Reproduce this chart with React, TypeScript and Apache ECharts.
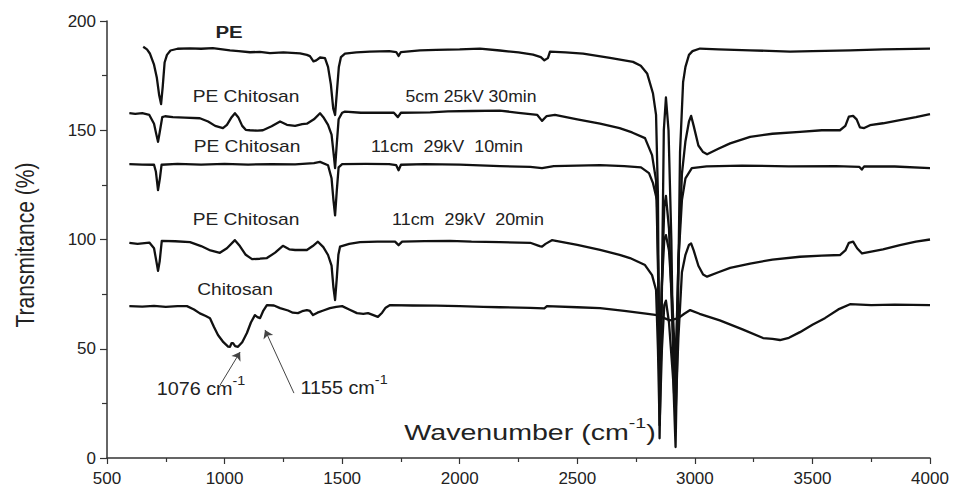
import React, { useEffect, useRef } from "react";
import * as echarts from "echarts";

// ---- Data (wavenumber cm-1, transmittance %) ----
const xTicks = [500, 1000, 1500, 2000, 2500, 3000, 3500, 4000];
const yTicks = [0, 50, 100, 150, 200];

const pe: [number, number][] = [
  [654, 188.2], [670, 187], [683, 185], [700, 180], [712, 174], [722, 166], [730, 162], [737, 170],
  [745, 181], [755, 184.5], [770, 186.5], [800, 187.3], [853, 187.5], [900, 187.3], [950, 187.6],
  [1023, 186.6], [1060, 186.2], [1108, 185.7], [1150, 185.9], [1193, 185.3], [1250, 185.6],
  [1321, 185.2], [1350, 184.5], [1363, 183.9], [1378, 181.5], [1390, 182], [1406, 183.3],
  [1427, 183], [1440, 179], [1452, 171], [1462, 160], [1470, 157], [1478, 168], [1486, 179],
  [1495, 183.5], [1512, 185.1], [1560, 185.6], [1618, 186], [1700, 186.2], [1730, 185.8],
  [1740, 184], [1750, 185.8], [1831, 186.6], [1900, 186.8], [2000, 187], [2086, 187.4],
  [2171, 186.5], [2250, 185.6], [2312, 184.6], [2345, 183.5], [2360, 182], [2375, 183],
  [2384, 186], [2450, 185.6], [2525, 185.1], [2639, 183.1], [2737, 181.3], [2770, 179.5],
  [2797, 176], [2822, 166.8], [2835, 157], [2843, 120], [2850, 9], [2858, 60], [2868, 150],
  [2877, 165], [2888, 150], [2900, 100], [2910, 30], [2918, 5], [2927, 60], [2937, 140],
  [2950, 172], [2960, 179], [2975, 184.5], [2990, 186.2], [3022, 187.4], [3100, 187],
  [3235, 186.6], [3405, 186], [3500, 186.2], [3660, 186.6], [3800, 187], [4000, 187.4],
];

const pe30min: [number, number][] = [
  [595, 157.8], [620, 157.5], [650, 157.8], [680, 157], [700, 153], [710, 148], [717, 144.7],
  [724, 149], [735, 156], [747, 156.4], [780, 156], [830, 155.8], [895, 155.5], [930, 154],
  [960, 152], [993, 151], [1010, 152.5], [1030, 156], [1044, 157.8], [1058, 156], [1075, 152],
  [1090, 150.2], [1108, 150], [1140, 149.8], [1163, 150], [1200, 151.8], [1236, 154],
  [1265, 152.5], [1300, 152], [1330, 152.8], [1350, 153], [1380, 155], [1406, 157.8],
  [1420, 156], [1440, 152.5], [1455, 148], [1465, 138], [1470, 132.7], [1476, 142],
  [1485, 155], [1500, 158], [1512, 158.5], [1580, 158], [1642, 158], [1720, 158], [1737, 156],
  [1750, 158], [1874, 158.2], [1950, 158.6], [2050, 158.8], [2171, 159], [2250, 158],
  [2330, 157], [2350, 154.3], [2370, 156.5], [2405, 157], [2500, 155], [2597, 153],
  [2680, 151], [2733, 149], [2788, 146.4], [2818, 138.6], [2835, 127], [2843, 90], [2850, 25],
  [2860, 80], [2870, 115], [2877, 120], [2890, 105], [2905, 60], [2918, 30], [2930, 90],
  [2945, 130], [2960, 145], [2975, 154], [2984, 156.6], [2995, 152], [3015, 143], [3035, 140],
  [3052, 139], [3100, 141.5], [3150, 144], [3235, 147], [3330, 148.4], [3447, 149.3],
  [3540, 150], [3617, 150], [3640, 152], [3655, 156.2], [3673, 156.6], [3688, 155],
  [3702, 151.3], [3720, 151], [3745, 152.3], [3800, 153.2], [3872, 154.6], [3940, 156],
  [4000, 157.4],
];

const pe10min: [number, number][] = [
  [595, 134.5], [650, 134.3], [700, 134.2], [708, 131], [717, 122.6], [725, 128], [732, 134.2],
  [800, 134.6], [900, 134.3], [1000, 134.6], [1100, 134.3], [1200, 134.5], [1300, 134.4],
  [1380, 135], [1406, 135.5], [1440, 134], [1455, 128], [1463, 118], [1470, 111], [1477, 122],
  [1485, 133], [1500, 134.5], [1600, 134.6], [1700, 134.5], [1730, 134], [1740, 131.7],
  [1750, 134.2], [1850, 134.5], [2000, 134.3], [2171, 133.6], [2300, 133.2], [2350, 132.7],
  [2400, 133.6], [2597, 134], [2700, 133.6], [2771, 133], [2805, 130.4], [2822, 125.8],
  [2839, 118], [2850, 45], [2860, 80], [2870, 100], [2877, 102], [2890, 95], [2905, 70],
  [2918, 40], [2930, 90], [2945, 118], [2960, 128], [2987, 132.7], [3050, 133.5],
  [3200, 133.8], [3400, 133.5], [3600, 133.6], [3700, 133.2], [3710, 132], [3720, 133.5],
  [3850, 133.4], [4000, 132.7],
];

const pe20min: [number, number][] = [
  [595, 98.5], [630, 98], [680, 98.6], [700, 96], [710, 90], [717, 85.7], [724, 90], [733, 99.4],
  [790, 99.2], [853, 98.8], [900, 97], [940, 95], [980, 93.9], [1010, 96], [1044, 99.7],
  [1065, 97], [1090, 93], [1117, 91], [1150, 91.2], [1180, 91.5], [1215, 94], [1248, 97.1],
  [1275, 95.5], [1300, 95.2], [1350, 95.2], [1375, 97], [1397, 99], [1420, 96.5],
  [1440, 92.9], [1455, 88], [1463, 78], [1470, 72.3], [1477, 82], [1484, 93], [1491, 96.7],
  [1530, 98], [1576, 98.8], [1650, 99], [1725, 99], [1740, 97.4], [1755, 99], [1850, 99.3],
  [1959, 99.4], [2050, 99], [2171, 98.8], [2300, 98.5], [2340, 97], [2350, 96.7], [2365, 98],
  [2392, 99.7], [2500, 97.5], [2597, 95.2], [2680, 93], [2724, 91.5], [2788, 88.3],
  [2818, 83.7], [2835, 76.9], [2843, 50], [2850, 15], [2860, 50], [2870, 70], [2877, 72],
  [2890, 62], [2905, 40], [2918, 20], [2930, 55], [2945, 85], [2960, 93], [2975, 97.5],
  [2984, 98.2], [2995, 95], [3015, 88], [3035, 84], [3052, 83], [3100, 85], [3150, 87],
  [3235, 89], [3330, 90.8], [3447, 92.1], [3540, 92.6], [3617, 92.9], [3640, 95], [3655, 98.5],
  [3673, 99], [3690, 96], [3711, 93.6], [3750, 94.5], [3800, 95.5], [3872, 97.4], [3940, 99],
  [4000, 100],
];

const chitosan: [number, number][] = [
  [595, 69.5], [650, 69.3], [700, 69.6], [750, 69.2], [800, 69.5], [840, 69.5], [870, 68],
  [895, 66.2], [920, 65], [938, 64], [955, 60], [972, 56.3], [995, 53], [1015, 51], [1023, 50.9],
  [1030, 52.6], [1036, 52.6], [1045, 51.2], [1057, 50.9], [1075, 53], [1095, 57.2], [1112, 62],
  [1129, 65.4], [1140, 64.5], [1151, 64], [1165, 67.5], [1180, 70], [1210, 69.8], [1236, 68.6],
  [1270, 67.5], [1290, 66.5], [1312, 66.3], [1330, 67.2], [1350, 67.7], [1363, 67.3],
  [1376, 65.4], [1395, 66.5], [1420, 67.5], [1448, 68.6], [1475, 69.2], [1500, 69.5],
  [1530, 68], [1563, 66.3], [1590, 66], [1610, 66.3], [1630, 65.5], [1652, 64.6], [1670, 66.5],
  [1685, 68.8], [1704, 70], [1800, 69.8], [1900, 69.7], [2000, 69.5], [2100, 69.2], [2171, 69],
  [2300, 68.7], [2360, 68.5], [2371, 69.5], [2500, 69], [2597, 68.6], [2700, 67.3], [2800, 66],
  [2839, 65.4], [2870, 64], [2894, 63], [2930, 64], [2955, 66], [2980, 67.7], [3020, 66],
  [3106, 63], [3200, 59], [3290, 54.9], [3330, 54.5], [3362, 54], [3400, 55], [3447, 57.6],
  [3500, 61], [3553, 64], [3610, 68], [3660, 70.4], [3750, 70], [3850, 70.2], [4000, 70],
];

// annotation arrows: [tail, head] in data coordinates
const arrow1076: [[number, number], [number, number]] = [[981, 33.4], [1066, 48.5]];
const arrow1155: [[number, number], [number, number]] = [[1295, 29.7], [1172, 58.6]];

const FONT = "'Liberation Sans', Arial, sans-serif";
const INK = "#111";

function txt(x: number, y: number, text: string, size: number, extra: any = {}) {
  return {
    type: "text",
    x,
    y,
    scaleX: extra.scaleX ?? 1.15,
    style: {
      text,
      fontSize: size,
      fontFamily: FONT,
      fontWeight: extra.fontWeight ?? "normal",
      fill: "#222",
      align: "center",
      verticalAlign: "middle",
      rich: extra.rich,
    },
    silent: true,
  };
}

export default function App() {
  const ref = useRef<HTMLDivElement>(null);
  useEffect(() => {
    if (!ref.current) return;
    const chart = echarts.init(ref.current, undefined, { renderer: "svg" });
    const lineSeries = (name: string, data: [number, number][], extra: any = {}) => ({
      name,
      type: "line",
      data,
      showSymbol: false,
      symbol: "none",
      lineStyle: { color: INK, width: 2.3, join: "round" },
      silent: true,
      z: 2,
      ...extra,
    });
    const supRich = (base: number) => ({
      a: { fontSize: base, fontFamily: FONT, fill: "#222", color: "#222", lineHeight: base + 12 },
      s: {
        fontSize: Math.round(base * 0.7),
        fontFamily: FONT,
        verticalAlign: "top",
        lineHeight: Math.round(base * 0.7) + 2,
        color: "#222",
        fill: "#222",
      },
    });
    chart.setOption({
      animation: false,
      backgroundColor: "#fff",
      grid: { left: 107, right: 25, top: 21, bottom: 29 },
      xAxis: {
        type: "value",
        min: xTicks[0],
        max: xTicks[xTicks.length - 1],
        interval: 500,
        axisLine: { show: true, lineStyle: { color: "#333", width: 1.5 } },
        axisTick: { show: true, length: 6, lineStyle: { color: "#333", width: 1.2 } },
        minorTick: { show: true, splitNumber: 2, length: 4, lineStyle: { color: "#333", width: 1.2 } },
        splitLine: { show: false },
        axisLabel: {
          fontSize: 17,
          fontFamily: FONT,
          color: "#222",
          margin: 12,
          formatter: (v: number) => String(v),
        },
      },
      yAxis: {
        type: "value",
        min: yTicks[0],
        max: yTicks[yTicks.length - 1],
        interval: 50,
        axisLine: { show: true, lineStyle: { color: "#333", width: 1.5 } },
        axisTick: { show: true, length: 7, lineStyle: { color: "#333", width: 1.2 } },
        minorTick: { show: true, splitNumber: 2, length: 5, lineStyle: { color: "#333", width: 1.2 } },
        splitLine: { show: false },
        axisLabel: {
          fontSize: 17,
          fontFamily: FONT,
          color: "#222",
          margin: 11,
          formatter: (v: number) => String(v),
        },
      },
      series: [
        lineSeries("PE", pe),
        lineSeries("PE Chitosan 5cm 25kV 30min", pe30min),
        lineSeries("PE Chitosan 11cm 29kV 10min", pe10min),
        lineSeries("PE Chitosan 11cm 29kV 20min", pe20min),
        lineSeries("Chitosan", chitosan, {
          markLine: {
            silent: true,
            symbol: ["none", "arrow"],
            symbolSize: 8,
            label: { show: false },
            lineStyle: { color: "#444", width: 1, type: "solid" },
            emphasis: { disabled: true },
            data: [
              [{ coord: arrow1076[0] }, { coord: arrow1076[1] }],
              [{ coord: arrow1155[0] }, { coord: arrow1155[1] }],
            ],
          },
        }),
      ],
      graphic: [
        txt(229, 32, "PE", 17, { fontWeight: "bold", scaleX: 1.2 }),
        txt(246, 97, "PE Chitosan", 16, { scaleX: 1.2 }),
        txt(471, 97, "5cm 25kV 30min", 16, { scaleX: 1.1 }),
        txt(247, 147, "PE Chitosan", 16, { scaleX: 1.2 }),
        txt(447, 147, "11cm  29kV  10min", 16, { scaleX: 1.12 }),
        txt(246, 220, "PE Chitosan", 16, { scaleX: 1.2 }),
        txt(468, 220, "11cm  29kV  20min", 16, { scaleX: 1.12 }),
        txt(235, 290, "Chitosan", 16, { scaleX: 1.2 }),
        txt(201, 389, "{a|1076 cm}{s|-1}", 18, { rich: supRich(18), scaleX: 1.1 }),
        txt(344, 388, "{a|1155 cm}{s|-1}", 18, { rich: supRich(18), scaleX: 1.1 }),
        txt(530, 432, "{a|Wavenumber (cm}{s|-1}{a|)}", 22, { rich: supRich(22), scaleX: 1.3 }),
        {
          type: "text",
          x: 25,
          y: 245,
          rotation: Math.PI / 2,
          scaleY: 1.2,
          style: {
            text: "Transmitance (%)",
            fontSize: 21,
            fontFamily: FONT,
            fill: "#222",
            align: "center",
            verticalAlign: "middle",
          },
          silent: true,
        },
      ],
    });
    return () => chart.dispose();
  }, []);
  return (
    <div
      ref={ref}
      style={{ position: "fixed", left: 0, top: 0, width: 955, height: 487, background: "#fff" }}
    />
  );
}
